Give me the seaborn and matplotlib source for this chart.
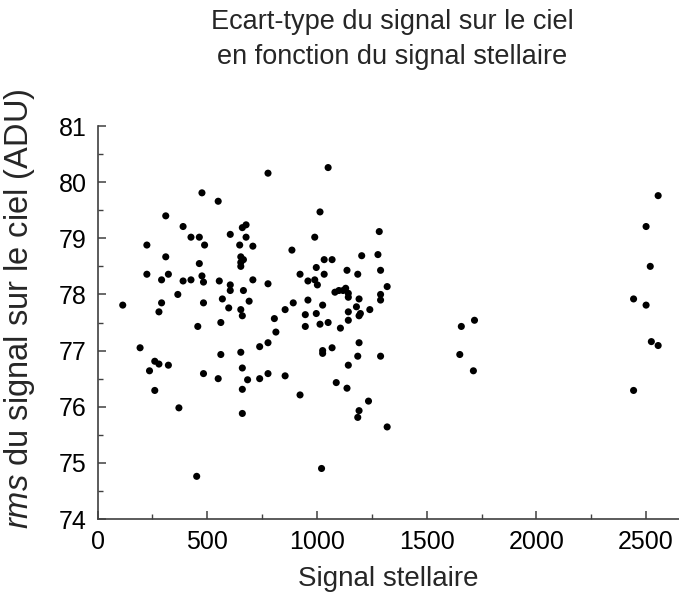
import matplotlib
matplotlib.use("Agg")
import matplotlib.pyplot as plt
import seaborn as sns
import pandas as pd
from matplotlib.ticker import MultipleLocator

signal_stellaire = [
    115, 194, 225, 225, 237, 261, 261, 280, 280, 292,
    292, 311, 311, 323, 323, 366, 371, 390, 390, 426,
    426, 452, 457, 464, 464, 476, 476, 483, 483, 483,
    488, 550, 550, 555, 562, 562, 569, 598, 605, 605,
    605, 648, 653, 653, 653, 653, 653, 660, 660, 660,
    660, 660, 665, 665, 677, 677, 684, 691, 708, 708,
    739, 739, 777, 777, 777, 777, 806, 813, 855, 855,
    886, 892, 923, 923, 947, 947, 959, 959, 990, 990,
    997, 997, 1002, 1014, 1014, 1021, 1026, 1026, 1026, 1033,
    1033, 1051, 1051, 1069, 1069, 1082, 1088, 1100, 1107, 1119,
    1131, 1137, 1137, 1143, 1143, 1143, 1143, 1143, 1180, 1186,
    1186, 1186, 1192, 1192, 1192, 1192, 1198, 1204, 1235, 1241,
    1278, 1284, 1290, 1290, 1290, 1290, 1320, 1320, 1651, 1658,
    1713, 1718, 2443, 2443, 2500, 2500, 2519, 2524, 2555, 2555,
]
rms_ciel = [
    77.81, 77.05, 78.88, 78.36, 76.64, 76.29, 76.81, 76.76, 77.69, 78.26,
    77.85, 79.40, 78.67, 78.36, 76.74, 78.00, 75.98, 79.21, 78.24, 79.02,
    78.26, 74.76, 77.43, 79.02, 78.55, 79.81, 78.33, 78.22, 77.85, 76.59,
    78.88, 79.66, 76.50, 78.24, 77.50, 76.93, 77.92, 77.76, 79.07, 78.17,
    78.07, 78.88, 78.67, 78.50, 78.57, 77.73, 76.97, 77.62, 79.19, 76.69,
    76.31, 75.88, 78.62, 78.07, 79.24, 79.02, 76.48, 77.88, 78.86, 78.26,
    77.07, 76.50, 80.16, 78.19, 77.14, 76.59, 77.57, 77.33, 77.73, 76.55,
    78.79, 77.85, 78.36, 76.21, 77.64, 77.43, 78.24, 77.90, 79.02, 78.26,
    78.48, 77.66, 78.17, 79.47, 77.47, 74.90, 77.81, 77.00, 76.95, 78.36,
    78.62, 80.26, 77.50, 78.62, 77.05, 78.04, 76.43, 78.07, 77.40, 78.07,
    78.11, 78.43, 76.33, 78.02, 77.95, 77.69, 77.54, 76.74, 77.78, 78.36,
    76.90, 75.81, 77.92, 77.62, 77.14, 75.93, 77.66, 78.69, 76.10, 77.73,
    78.71, 79.12, 78.43, 78.00, 77.90, 76.90, 78.14, 75.64, 76.93, 77.43,
    76.64, 77.54, 77.92, 76.29, 79.21, 77.81, 78.50, 77.16, 79.76, 77.09,
]

x_ticks = [0, 500, 1000, 1500, 2000, 2500]
y_ticks = [74, 75, 76, 77, 78, 79, 80, 81]

sns.set_theme(style="white")
plt.rcParams["font.family"] = ["Liberation Sans", "DejaVu Sans"]
plt.rcParams["mathtext.fontset"] = "custom"
plt.rcParams["mathtext.it"] = "Liberation Sans:italic"
plt.rcParams["mathtext.rm"] = "Liberation Sans"

df = pd.DataFrame({"x": signal_stellaire, "y": rms_ciel})

fig = plt.figure(figsize=(6.79, 6.03), dpi=100)
ax = fig.add_axes([0.1436, 0.1393, 0.8564, 0.6517])
sns.scatterplot(data=df, x="x", y="y", ax=ax, color="black", s=26,
                edgecolor="none", linewidth=0, legend=False, clip_on=False)

ax.set_xlim(0, 2650)
ax.set_ylim(74, 81)
ax.set_xticks(x_ticks)
ax.set_yticks(y_ticks)
ax.xaxis.set_minor_locator(MultipleLocator(250))
ax.yaxis.set_minor_locator(MultipleLocator(0.5))
for s in ["top", "right"]:
    ax.spines[s].set_visible(False)
for s in ["left", "bottom"]:
    ax.spines[s].set_color("#404040")
    ax.spines[s].set_linewidth(1.2)
ax.tick_params(which="both", direction="in", colors="#404040", labelcolor="black",
               labelsize=18, left=True, bottom=True)
ax.tick_params(which="major", length=6, width=1.1)
ax.tick_params(which="minor", length=3.5, width=1.0)
ax.tick_params(axis="x", pad=8)
ax.tick_params(axis="y", pad=8)

ax.set_xlabel("Signal stellaire", fontsize=20)
ax.xaxis.set_label_coords(0.5, -0.12)
ax.set_ylabel(r"$\it{rms}$ du signal sur le ciel (ADU)", fontsize=23.5)
ax.yaxis.set_label_coords(-0.104, 0.535)

fig.text(0.578, 0.963, "Ecart-type du signal sur le ciel", ha="center", va="center", fontsize=19.5)
fig.text(0.578, 0.905, "en fonction du signal stellaire", ha="center", va="center", fontsize=19.5)

fig.savefig("out.png", dpi=100, facecolor="white")
